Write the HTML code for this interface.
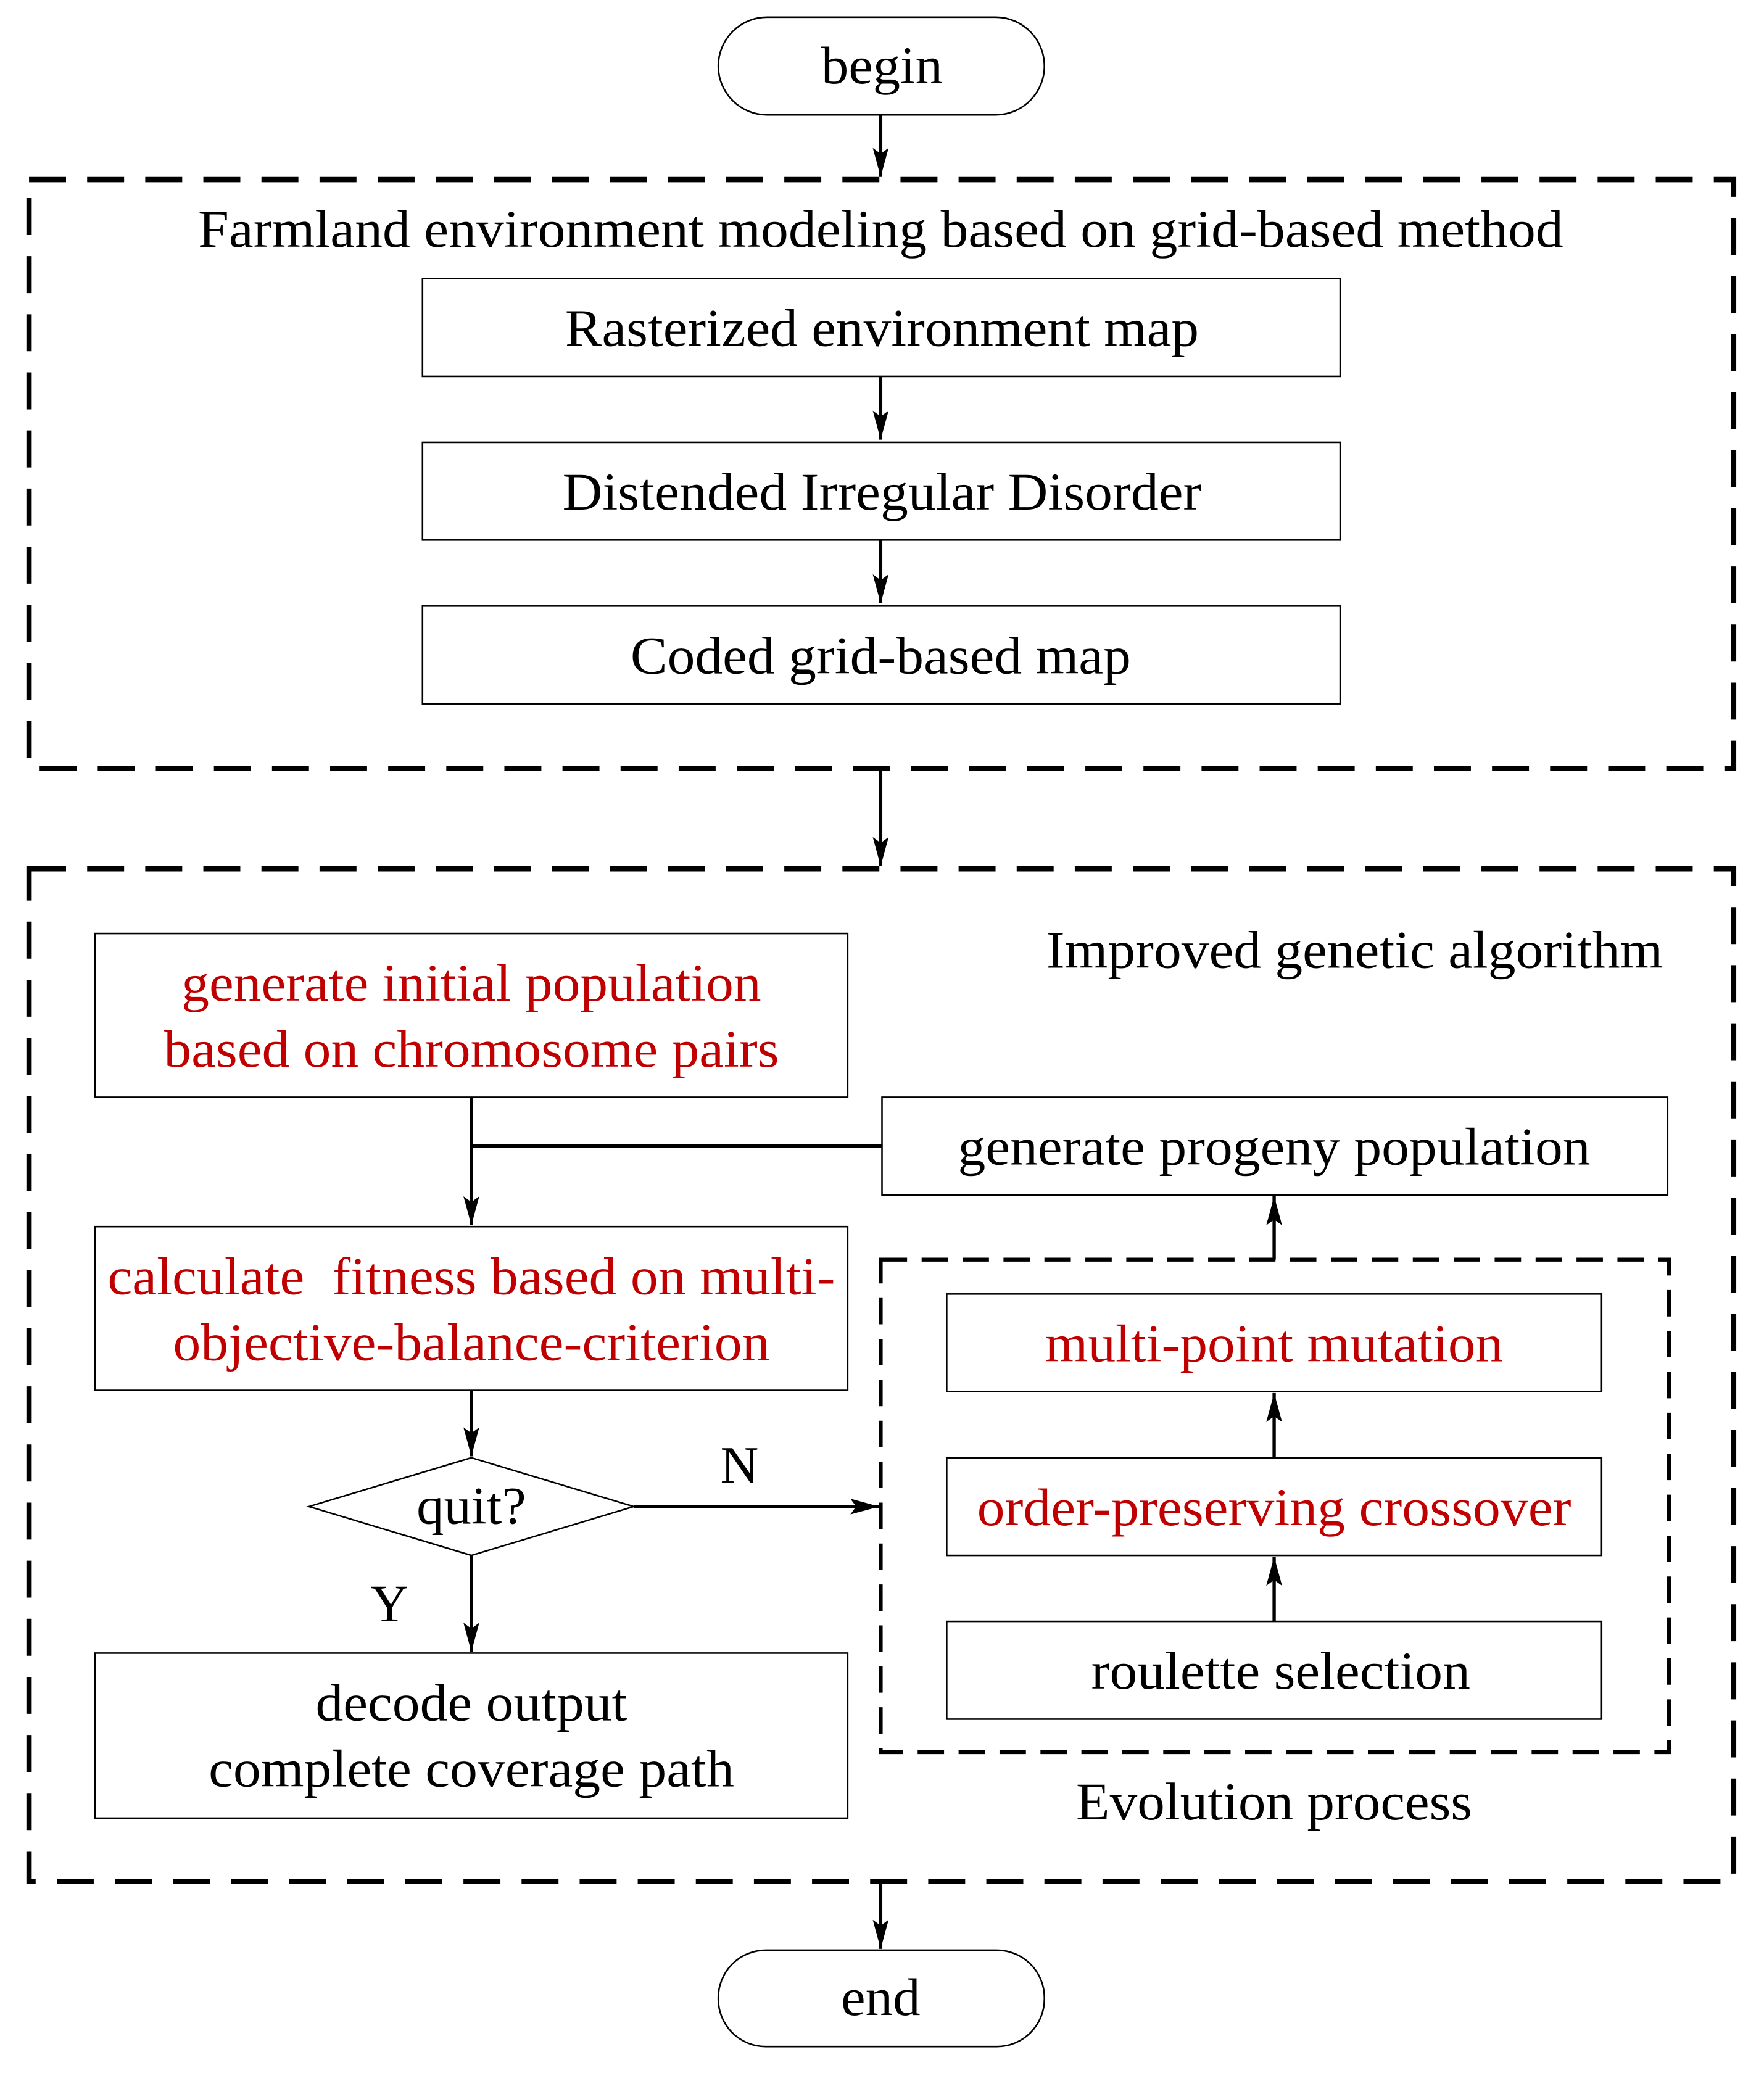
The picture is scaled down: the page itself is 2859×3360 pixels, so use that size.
<!DOCTYPE html>
<html><head><meta charset="utf-8"><style>html,body{margin:0;padding:0;background:#fff}svg{display:block}</style></head>
<body>
<svg width="2859" height="3360" viewBox="0 0 1336 1570" preserveAspectRatio="none" xmlns="http://www.w3.org/2000/svg" font-family="Liberation Serif, serif" font-size="40" text-anchor="middle">
<defs>
<marker id="b" viewBox="0 0 10 10" refX="10" refY="5" markerWidth="22" markerHeight="12" markerUnits="userSpaceOnUse" orient="auto" preserveAspectRatio="none"><path d="M0,0 L10,5 L0,10 L2,5 z" fill="#000"/></marker>
</defs>
<g fill="none" stroke="#000">
<rect x="544" y="13" width="247" height="74" rx="37" stroke-width="1.2"/>
<rect x="544" y="1477" width="247" height="73" rx="36" stroke-width="1.2"/>
<rect x="22" y="136" width="1291" height="446" stroke-width="4" stroke-dasharray="28,16"/>
<rect x="22" y="658" width="1291" height="767" stroke-width="4" stroke-dasharray="28,16"/>
<rect x="667" y="954" width="597" height="373" stroke-width="3" stroke-dasharray="20,11"/>
<g stroke-width="1.2">
<rect x="320" y="211" width="695" height="74"/>
<rect x="320" y="335" width="695" height="74"/>
<rect x="320" y="459" width="695" height="74"/>
<rect x="72" y="707" width="570" height="124"/>
<rect x="668" y="831" width="595" height="74"/>
<rect x="72" y="929" width="570" height="124"/>
<rect x="72" y="1252" width="570" height="125"/>
<path d="M357,1104 L480,1141 L357,1178 L234,1141 Z"/>
<rect x="717" y="980" width="496" height="74"/>
<rect x="717" y="1104" width="496" height="74"/>
<rect x="717" y="1228" width="496" height="74"/>
</g>
<g stroke-width="2.5">
<line x1="667" y1="87" x2="667" y2="134" marker-end="url(#b)"/>
<line x1="667" y1="285" x2="667" y2="333" marker-end="url(#b)"/>
<line x1="667" y1="409" x2="667" y2="457" marker-end="url(#b)"/>
<line x1="667" y1="582" x2="667" y2="656" marker-end="url(#b)"/>
<line x1="357" y1="831" x2="357" y2="928" marker-end="url(#b)"/>
<line x1="357" y1="868" x2="668" y2="868"/>
<line x1="357" y1="1053" x2="357" y2="1103" marker-end="url(#b)"/>
<line x1="357" y1="1178" x2="357" y2="1251" marker-end="url(#b)"/>
<line x1="480" y1="1141" x2="666" y2="1141" marker-end="url(#b)"/>
<line x1="965" y1="954" x2="965" y2="906" marker-end="url(#b)"/>
<line x1="965" y1="1104" x2="965" y2="1055" marker-end="url(#b)"/>
<line x1="965" y1="1228" x2="965" y2="1179" marker-end="url(#b)"/>
<line x1="667" y1="1425" x2="667" y2="1476" marker-end="url(#b)"/>
</g>
</g>
<g fill="#000">
<text x="668" y="63" textLength="92" lengthAdjust="spacingAndGlyphs">begin</text>
<text x="667" y="1526" textLength="60" lengthAdjust="spacingAndGlyphs">end</text>
<text x="667" y="187" textLength="1034" lengthAdjust="spacingAndGlyphs">Farmland environment modeling based on grid-based method</text>
<text x="668" y="262" textLength="480" lengthAdjust="spacingAndGlyphs">Rasterized environment map</text>
<text x="668" y="386" textLength="484" lengthAdjust="spacingAndGlyphs">Distended Irregular Disorder</text>
<text x="667" y="510" textLength="379" lengthAdjust="spacingAndGlyphs">Coded grid-based map</text>
<text x="1026" y="733" textLength="467" lengthAdjust="spacingAndGlyphs">Improved genetic algorithm</text>
<text x="965" y="882" textLength="479" lengthAdjust="spacingAndGlyphs">generate progeny population</text>
<text x="357" y="1154" textLength="83" lengthAdjust="spacingAndGlyphs">quit?</text>
<text x="560" y="1123">N</text>
<text x="295" y="1228">Y</text>
<text x="357" y="1303" textLength="236" lengthAdjust="spacingAndGlyphs">decode output</text>
<text x="357" y="1353" textLength="398" lengthAdjust="spacingAndGlyphs">complete coverage path</text>
<text x="970" y="1279" textLength="287" lengthAdjust="spacingAndGlyphs">roulette selection</text>
<text x="965" y="1378" textLength="300" lengthAdjust="spacingAndGlyphs">Evolution process</text>
</g>
<g fill="#c00000">
<text x="357" y="758" textLength="439" lengthAdjust="spacingAndGlyphs">generate initial population</text>
<text x="357" y="808" textLength="466" lengthAdjust="spacingAndGlyphs">based on chromosome pairs</text>
<text x="357" y="980" textLength="551" lengthAdjust="spacingAndGlyphs" xml:space="preserve">calculate  fitness based on multi-</text>
<text x="357" y="1030" textLength="452" lengthAdjust="spacingAndGlyphs">objective-balance-criterion</text>
<text x="965" y="1031" textLength="347" lengthAdjust="spacingAndGlyphs">multi-point mutation</text>
<text x="965" y="1155" textLength="450" lengthAdjust="spacingAndGlyphs">order-preserving crossover</text>
</g>
</svg>
</body></html>
